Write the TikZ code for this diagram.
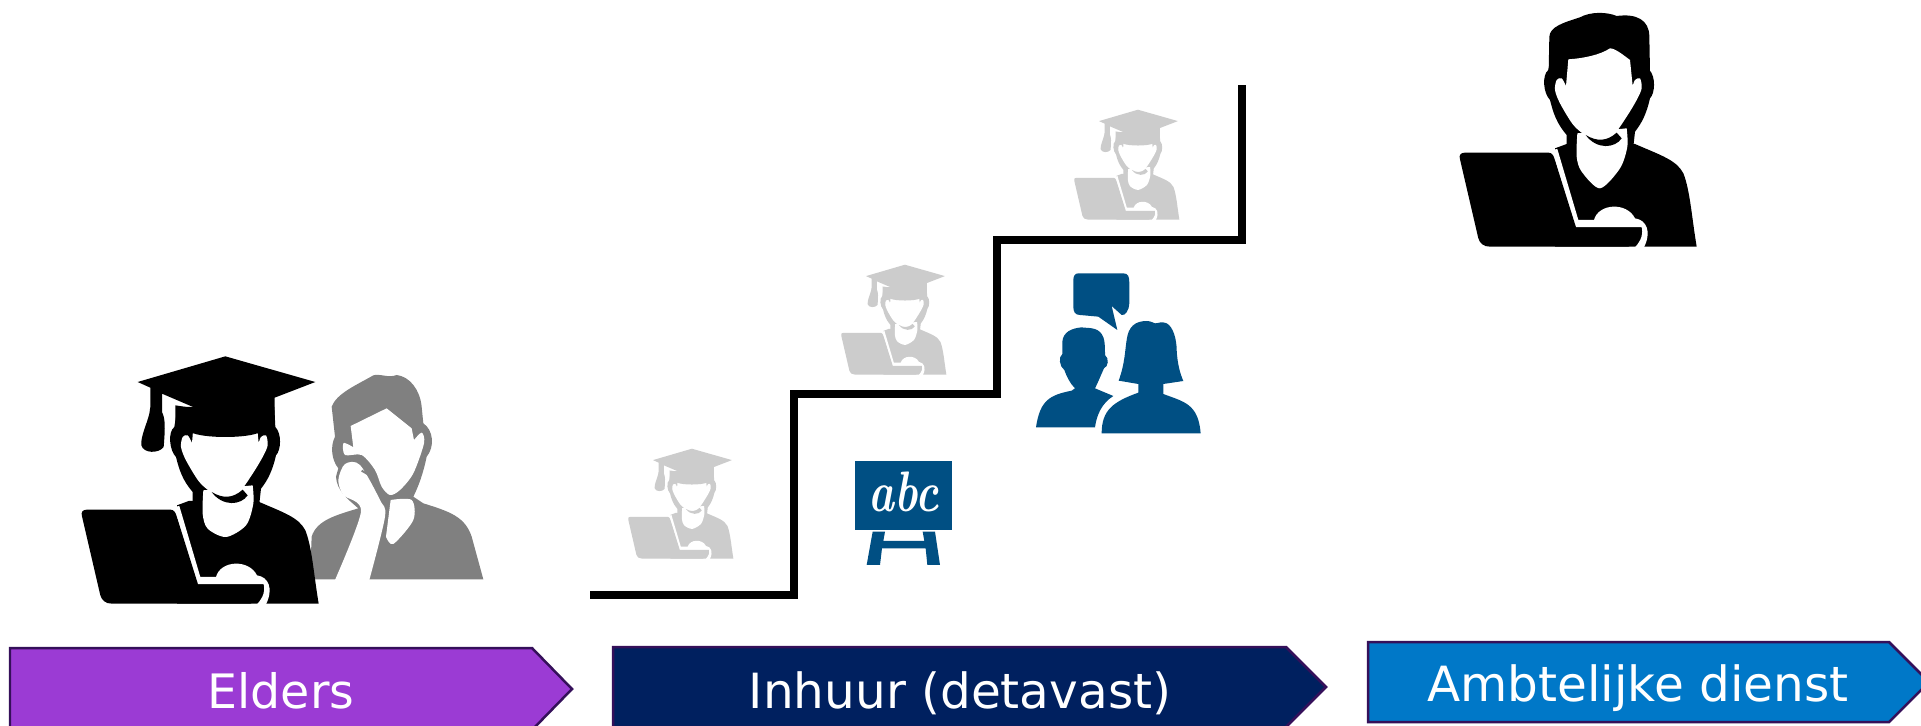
\documentclass[tikz,border=0pt]{standalone}
\usepackage{fontspec}
\setsansfont{DejaVu Sans}
\usepackage{xcolor}
\definecolor{barpurple}{HTML}{9B3BD4}
\definecolor{barnavy}{HTML}{00205F}
\definecolor{barblue}{HTML}{0078C8}
\definecolor{barline}{HTML}{35105A}
\definecolor{iconblue}{HTML}{004F83}
\definecolor{icongray}{HTML}{CCCCCC}
\definecolor{sadgray}{HTML}{808080}
% fill options, head shift, lowest point of the neck
\newcommand{\laptopbody}[3]{
	\fill[#1] (345,445) -- (380,432) -- (585,432) .. controls (660,465) and (710,480) .. (730,520) .. controls (750,570) and (755,650) .. (770,740) -- (345,740) -- cycle;
	\begin{scope}[shift={(#2,0)}]
		\fill[#1] (380,440) -- (380,405) .. controls (350,370) and (340,340) .. (330,300) .. controls (310,280) and (305,225) .. (325,210) -- (335,150) -- (625,150) -- (628,210) .. controls (648,230) and (645,280) .. (630,295) .. controls (620,340) and (605,370) .. (585,395) -- (580,440) -- cycle;
		\fill[white] plot[smooth,tension=.5] coordinates {(378,258)(365,235)(350,240)(345,270)(360,310)(400,375)(440,408)(480,418)(520,405)(560,350)(590,300)(605,265)(600,235)(585,240)(578,258)} -- (570,180) .. controls (550,165) and (525,145) .. (510,145) .. controls (480,165) and (430,175) .. (385,178) -- cycle;
		\fill[white] plot[smooth,tension=.5] coordinates {(412,400)(410,470)(425,515)(480,#3)(540,505)(562,440)(560,385)} -- cycle;
		\fill[#1] (437,405) .. controls (470,425) and (500,425) .. (530,398) -- (545,415) .. controls (525,445) and (470,450) .. cycle;
	\end{scope}
	\fill[white] (335,450) -- (352,447) -- (415,660) -- (462,660) .. controls (475,610) and (560,605) .. (585,655) .. controls (620,660) and (635,695) .. (612,742) -- (585,742) .. controls (605,720) and (610,700) .. (605,682) -- (405,682) -- cycle;
	\fill[#1] (75,458) -- (325,458) .. controls (335,458) and (340,465) .. (343,475) -- (408,682) -- (604,682) .. controls (610,700) and (600,725) .. (565,740) -- (150,740) .. controls (130,740) and (120,730) .. (115,715) -- (60,478) .. controls (56,465) and (62,458) .. (75,458) -- cycle;
}
\tikzset{
	manicon/.pic={
		\fill[pic actions] (326,215) -- (328,110) .. controls (330,80) and (370,68) .. (420,52) .. controls (450,35) and (500,35) .. (530,48) .. controls (590,40) and (628,60) .. (628,110) -- (630,215) -- cycle;
		\laptopbody{pic actions}{0}{565}
	},
	gradicon/.pic={
		\laptopbody{pic actions}{12}{540}
		\fill[pic actions] (227,75) -- (490,-2) -- (760,75) -- (638,122) -- (638,240) -- (595,225) .. controls (560,245) and (420,245) .. (385,225) -- (340,240) -- (340,145) -- (405,155) -- (300,110) -- (300,165) .. controls (310,185) and (310,210) .. (305,270) .. controls (290,290) and (245,290) .. (238,265) .. controls (235,240) and (255,200) .. (262,170) -- (265,150) -- (265,92) -- cycle;
	},
	barshape/.style={draw=barline, line width=.05cm},
	barlabel/.style={text=white, anchor=base, inner sep=0pt, font=\sffamily\fontsize{27.6}{32}\selectfont},
	stairline/.style={line width=.15cm, line join=miter},
}
\begin{document}
\begin{tikzpicture}[x=.02cm, y=-.02cm]
	\useasboundingbox (0,0) rectangle (1921,726);
	\clip (0,0) rectangle (1921,726);
	\fill[white] (0,0) rectangle (1921,726);
	% stairs
	\draw[stairline] (590,595) -- (794,595) -- (794,394) -- (997,394) -- (997,240) -- (1242,240) -- (1242,85);
	% bars
	\draw[barshape, fill=barpurple] (10,648) -- (532,648) -- (572,689) -- (532,730) -- (10,730) -- cycle;
	\node[barlabel, font=\sffamily\fontsize{27}{32}\selectfont] (elders) at (281,708) {Elders};
	\draw[barshape, fill=barnavy] (613,647) -- (1286,647) -- (1326,687) -- (1286,727) -- (613,727) -- cycle;
	\node[barlabel] (inhuur) at (960,708) {Inhuur (detavast)};
	\draw[barshape, fill=barblue] (1368,642) -- (1889,642) -- (1929,682) -- (1889,722) -- (1368,722) -- cycle;
	\node[barlabel] (ambtelijk) at (1638,701) {Ambtelijke dienst};
	% gray figure, hand on cheek (coordinates of a 3x crop)
	\begin{scope}[shift={(60,340)}, scale=1/3]
		\fill[sadgray] (750,718) -- (755,590) .. controls (770,540) and (830,525) .. (895,505) .. controls (860,475) and (830,450) .. (828,410) -- (835,385) .. controls (815,360) and (810,320) .. (825,290) -- (815,200) .. controls (830,160) and (890,135) .. (940,106) .. controls (960,100) and (985,115) .. (1010,105) .. controls (1050,110) and (1080,150) .. (1085,200) -- (1090,250) .. controls (1120,270) and (1125,320) .. (1100,350) .. controls (1090,400) and (1075,440) .. (1060,470) -- (1090,490) .. controls (1170,515) and (1215,530) .. (1235,590) -- (1270,718) -- cycle;
		\fill[white] plot[smooth,tension=.5] coordinates {(880,322)(868,315)(850,310)(855,345)(905,345)(945,390)(965,440)(990,465)(1020,450)(1060,400)(1092,310)(1085,278)(1062,300)} -- (1055,265) -- (980,205) -- (872,258) -- cycle;
		\fill[white] plot[smooth,tension=.5] coordinates {(992,480)(1055,480)(1060,540)(1000,612)(978,590)} -- cycle;
		\fill[white] plot[smooth,tension=.5] coordinates {(825,720)(903,515)(850,465)(835,420)(855,372)(900,375)(960,480)(975,530)(928,720)} -- cycle;
		\draw[sadgray, line width=.04cm] (905,392) -- (940,412);
	\end{scope}
	% graduates
	\pic[fill=black, scale=1/3] (gradbig) at (62,357) {gradicon};
	\pic[fill=icongray, scale=.148] (gradlow) at (619.4,449) {gradicon};
	\pic[fill=icongray, scale=.148] (gradmid) at (832.4,265) {gradicon};
	\pic[fill=icongray, scale=.148] (gradtop) at (1065.4,110) {gradicon};
	\pic[fill=black, scale=1/3] (official) at (1440,0) {manicon};
	% talking pair and board (coordinates of a 3x crop)
	\begin{scope}[shift={(830,260)}, scale=1/3, iconblue]
		\fill (745,40) -- (880,40) .. controls (895,40) and (898,50) .. (898,70) -- (898,130) .. controls (898,150) and (885,168) .. (875,165) -- (845,138) -- (862,210) -- (805,170) -- (750,165) .. controls (735,165) and (730,155) .. (730,140) -- (730,60) .. controls (730,48) and (735,40) .. (745,40) -- cycle;
		\fill (795,502) .. controls (800,465) and (815,430) .. (850,408) -- (795,385) .. controls (805,365) and (815,340) .. (822,325) .. controls (835,320) and (838,295) .. (825,285) .. controls (825,260) and (825,235) .. (815,222) .. controls (800,200) and (770,205) .. (755,202) .. controls (725,205) and (700,215) .. (697,245) -- (697,282) .. controls (685,290) and (688,320) .. (703,330) .. controls (710,350) and (720,370) .. (735,385) -- (725,392) .. controls (660,405) and (630,420) .. (618,502) -- cycle;
		\fill (815,520) .. controls (815,450) and (850,425) .. (925,398) -- (925,372) -- (866,362) .. controls (885,310) and (885,270) .. (890,240) .. controls (895,200) and (915,183) .. (950,183) .. controls (965,183) and (970,190) .. (975,190) .. controls (985,190) and (995,183) .. (1010,190) .. controls (1030,200) and (1040,240) .. (1040,270) .. controls (1042,310) and (1050,340) .. (1060,363) -- (1000,372) -- (1000,402) .. controls (1060,425) and (1105,430) .. (1112,520) -- cycle;
		\fill (75,603) rectangle (367,811);
		\fill (128,815) -- (165,815) -- (160,843) -- (283,843) -- (278,815) -- (315,815) -- (330,915) -- (292,915) -- (287,865) -- (156,865) -- (150,915) -- (110,915) -- cycle;
		\node[text=white, inner sep=0pt, font=\bfseries\itshape\fontsize{25}{30}\selectfont] (abc) at (222,697) {\scalebox{1}[1.3]{abc}};
	\end{scope}
\end{tikzpicture}
\end{document}
